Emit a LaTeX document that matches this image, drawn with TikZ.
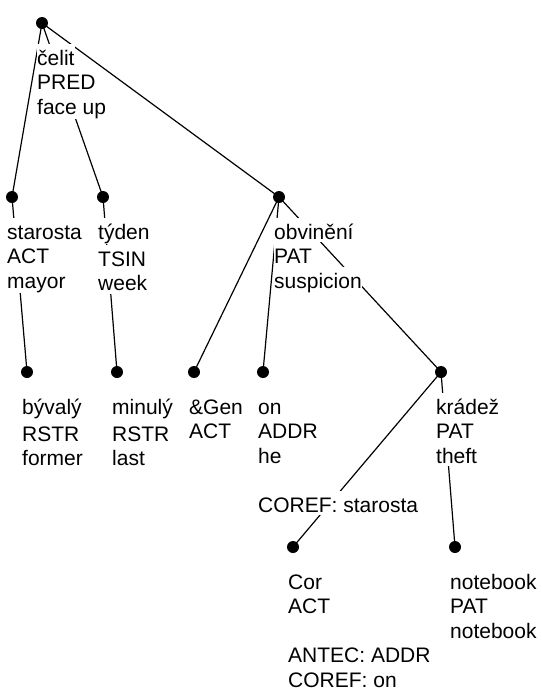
\documentclass[tikz,border=0pt]{standalone}
\usepackage{fontspec}
\setmainfont{Liberation Sans}
\setlength{\fboxsep}{0pt}
\newcommand{\wline}[1]{\colorbox{white}{\rule[-3pt]{0pt}{24.5pt}#1}}

\begin{document}
\begin{tikzpicture}[
    x=1pt, y=-1pt,
    dot/.style={circle, fill, minimum size=12pt, inner sep=0pt},
    branch/.style={draw, line width=1.2pt},
    label text/.style={anchor=north west, inner sep=0pt, align=left, font=\fontsize{21}{24.5}\selectfont}
    ]
    \useasboundingbox (0,0) rectangle (542,691);
    % dots
    \node[dot] (celit) at (42,23) {};
    \node[dot] (starosta) at (12,197) {};
    \node[dot] (tyden) at (103,197) {};
    \node[dot] (obvineni) at (279,197) {};
    \node[dot] (byvaly) at (27,372) {};
    \node[dot] (minuly) at (117,372) {};
    \node[dot] (gen) at (194,372) {};
    \node[dot] (on) at (263,372) {};
    \node[dot] (kradez) at (441,372) {};
    \node[dot] (cor) at (293,547) {};
    \node[dot] (notebook) at (455,547) {};
    % branches
    \draw[branch] (celit.center) -- (starosta.center);
    \draw[branch] (celit.center) -- (tyden.center);
    \draw[branch] (celit.center) -- (obvineni.center);
    \draw[branch] (starosta.center) -- (byvaly.center);
    \draw[branch] (tyden.center) -- (minuly.center);
    \draw[branch] (obvineni.center) -- (gen.center);
    \draw[branch] (obvineni.center) -- (on.center);
    \draw[branch] (obvineni.center) -- (kradez.center);
    \draw[branch] (kradez.center) -- (cor.center);
    \draw[branch] (kradez.center) -- (notebook.center);
    % labels
    \node[label text] (celit-l) at ([shift={(-5,20.5)}]celit.center) {\wline{čelit}\\\wline{PRED}\\\wline{face up}};
    \node[label text] (starosta-l) at ([shift={(-5,20.5)}]starosta.center) {\wline{starosta}\\\wline{ACT}\\\wline{mayor}};
    \node[label text] (tyden-l) at ([shift={(-5,20.5)}]tyden.center) {\wline{týden}\\\wline{TSIN}\\\wline{week}};
    \node[label text] (obvineni-l) at ([shift={(-5,20.5)}]obvineni.center) {\wline{obvinění}\\\wline{PAT}\\\wline{suspicion}};
    \node[label text] (byvaly-l) at ([shift={(-5,20.5)}]byvaly.center) {\wline{bývalý}\\\wline{RSTR}\\\wline{former}};
    \node[label text] (minuly-l) at ([shift={(-5,20.5)}]minuly.center) {\wline{minulý}\\\wline{RSTR}\\\wline{last}};
    \node[label text] (gen-l) at ([shift={(-5,20.5)}]gen.center) {\wline{\&Gen}\\\wline{ACT}};
    \node[label text] (on-l) at ([shift={(-5,20.5)}]on.center) {\wline{on}\\\wline{ADDR}\\\wline{he}\\[24.5pt]\wline{COREF: starosta}};
    \node[label text] (kradez-l) at ([shift={(-5,20.5)}]kradez.center) {\wline{krádež}\\\wline{PAT}\\\wline{theft}};
    \node[label text] (cor-l) at ([shift={(-5,20.5)}]cor.center) {\wline{Cor}\\\wline{ACT}\\[24.5pt]\wline{ANTEC: ADDR}\\\wline{COREF: on}};
    \node[label text] (notebook-l) at ([shift={(-5,20.5)}]notebook.center) {\wline{notebook}\\\wline{PAT}\\\wline{notebook}};
\end{tikzpicture}
\end{document}
